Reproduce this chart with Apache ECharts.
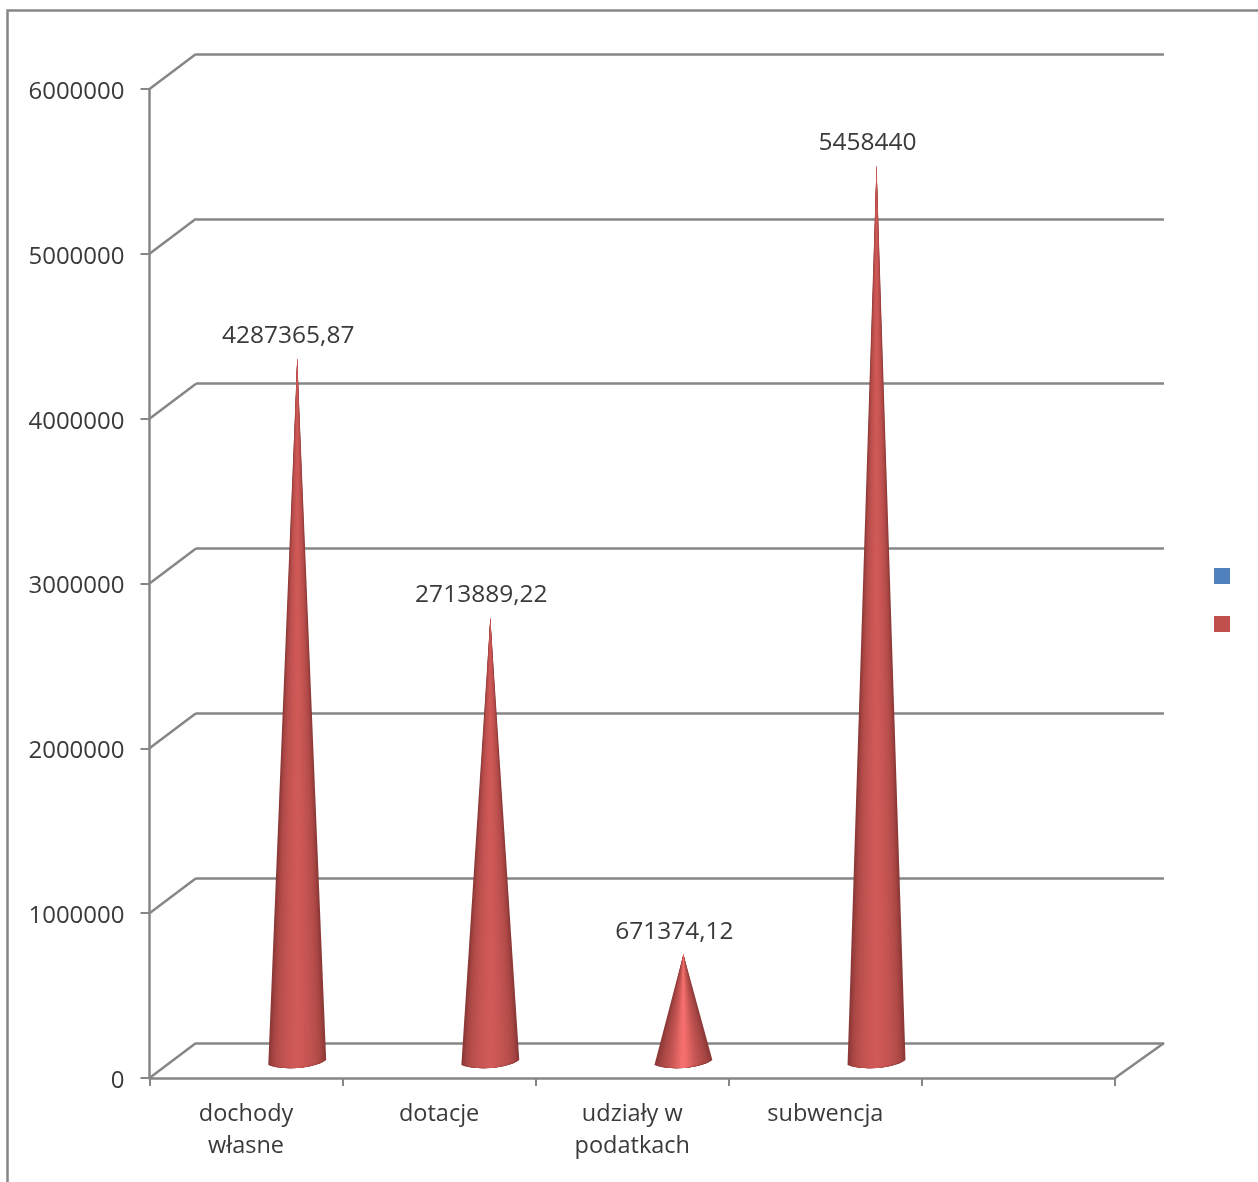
<!DOCTYPE html>
<html>
<head>
<meta charset="utf-8">
<style>html,body{margin:0;padding:0;background:#fff}#c{width:1258px;height:1182px;filter:blur(0.5px)}</style>
<script src="https://cdn.jsdelivr.net/npm/echarts@6/dist/echarts.min.js"></script>
</head>
<body>
<div id="c"></div>
<script>
const categories = ['dochody\nwłasne', 'dotacje', 'udziały w\npodatkach', 'subwencja', ''];
const values = [4287365.87, 2713889.22, 671374.12, 5458440];
const yTicks = [0, 1000000, 2000000, 3000000, 4000000, 5000000, 6000000];
const seriesNames = ['\u00a0', '\u00a0\u00a0'];

const FONT = '"Open Sans", sans-serif';
const TEXT = '#3a3a3a';
const LINE = '#868686';
const BLUE = '#4f81bd';
const RED = '#c0504d';
const SHADE = ['#d05a58', '#ce5957', '#ca5755', '#c45452', '#bd5150', '#b64d4b', '#a84644', '#8c3937'];
const SHADE_BRIGHT = ['#fb7272', '#ee6c6a', '#dc6260', '#ca5856', '#bc504e', '#b04b49', '#a04341', '#8c3937'];
const LAYERS = 16;

function renderCone(params, api) {
  const i = api.value(0), v = api.value(1);
  const slot = api.size([1, 0])[0];
  const base0 = api.coord([i, 0]);
  const top = api.coord([i, v]);
  const cx = base0[0] + slot * 0.265;
  const by = base0[1] - 15;
  const ay = top[1] - 13;
  const r = slot * 0.15;
  const ramp = v < 1000000 ? SHADE_BRIGHT : SHADE;
  const children = [];
  for (let n = LAYERS; n >= 1; n--) {
    const k = n / LAYERS;
    const path = 'M' + cx + ' ' + ay +
      ' L' + (cx + r * k) + ' ' + (by - 3 * k + 4 * (1 - k)) +
      ' C' + (cx + 20 * k) + ' ' + (by + 5) + ' ' + (cx - 15 * k) + ' ' + (by + 8 - 3 * (1 - k)) + ' ' + (cx - r * k) + ' ' + (by + 2 + 3 * (1 - k)) + ' Z';
    children.push({type: 'path', shape: {pathData: path},
      style: {fill: echarts.color.lerp(k, ramp)}});
  }
  children.push({type: 'text', x: cx - 9, y: ay - 22.5, style: {
    text: String(v).replace('.', ','), font: '24.5px ' + FONT, fill: TEXT,
    align: 'center', verticalAlign: 'middle'
  }});
  return {type: 'group', children};
}

function renderDiagonal(params, api) {
  const rect = params.coordSys;
  const v = api.value(0);
  const y = api.coord([0, v])[1];
  const seg = (x, dx) => ({type: 'line', shape: {x1: x, y1: y, x2: x + dx, y2: y - 35},
    style: {stroke: LINE, lineWidth: 2.5}});
  const children = [seg(rect.x, 46.5)];
  if (v === 0) children.push(seg(rect.x + rect.width, 49));
  return {type: 'group', children};
}

const chart = echarts.init(document.getElementById('c'), null, {renderer: 'canvas'});
chart.setOption({
  animation: false,
  backgroundColor: '#ffffff',
  graphic: [{
    type: 'polyline', silent: true,
    shape: {points: [[7.5, 1182], [7.5, 10.5], [1258, 10.5]]},
    style: {stroke: LINE, lineWidth: 2.5, fill: null}
  }],
  legend: {
    orient: 'vertical', left: 1209, top: 563,
    itemWidth: 16, itemHeight: 16, itemGap: 32,
    data: seriesNames.map(n => ({name: n, icon: 'rect'})),
    formatter: () => '',
    textStyle: {fontSize: 16}
  },
  grid: [
    {left: 149.5, right: 143, top: 89, bottom: 104},
    {left: 196, right: 94, top: 54, bottom: 139}
  ],
  xAxis: [
    {
      gridIndex: 0, type: 'category', data: categories,
      axisLine: {lineStyle: {color: LINE, width: 2.5}},
      axisTick: {show: true, length: 8, lineStyle: {color: LINE, width: 2}},
      axisLabel: {
        interval: 0, margin: 20, color: TEXT, fontFamily: FONT, fontSize: 23.5, lineHeight: 32,
        verticalAlign: 'top'
      },
      splitLine: {show: false}
    },
    {gridIndex: 1, type: 'category', data: categories, show: false}
  ],
  yAxis: [
    {
      gridIndex: 0, type: 'value', min: 0, max: 6000000, interval: 1000000,
      axisLine: {show: true, lineStyle: {color: LINE, width: 2.5}},
      axisTick: {show: true, length: 9, lineStyle: {color: LINE, width: 2}},
      axisLabel: {margin: 25, color: TEXT, fontFamily: FONT, fontSize: 24, verticalAlign: 'top', lineHeight: 6,
        formatter: v => String(v)},
      splitLine: {show: false}
    },
    {
      gridIndex: 1, type: 'value', min: 0, max: 6000000, interval: 1000000,
      axisLine: {show: false}, axisTick: {show: false}, axisLabel: {show: false},
      splitLine: {show: true, lineStyle: {color: LINE, width: 2.5}}
    }
  ],
  series: [
    {
      name: seriesNames[0], type: 'bar', xAxisIndex: 0, yAxisIndex: 0, data: [],
      itemStyle: {color: BLUE}
    },
    {
      name: seriesNames[1], type: 'custom', xAxisIndex: 0, yAxisIndex: 0, z: 5, clip: false,
      itemStyle: {color: RED}, silent: true,
      encode: {x: 0, y: 1},
      data: values.map((v, i) => [i, v]),
      renderItem: renderCone
    },
    {
      type: 'custom', xAxisIndex: 0, yAxisIndex: 0, z: 1, clip: false, silent: true,
      encode: {y: 0},
      data: yTicks.map(v => [v]),
      renderItem: renderDiagonal
    }
  ]
});
</script>
</body>
</html>
